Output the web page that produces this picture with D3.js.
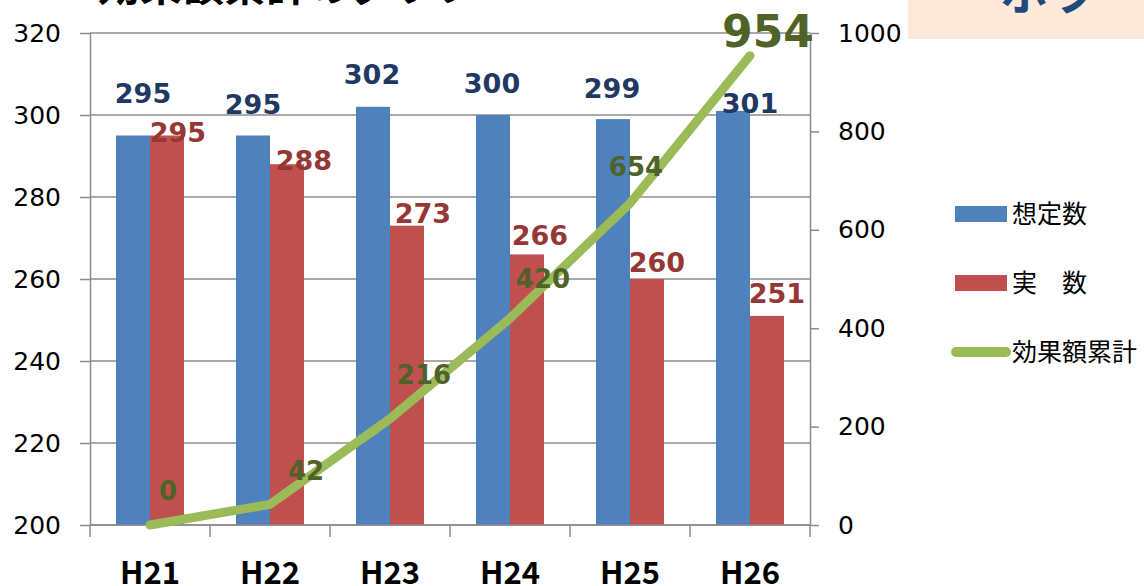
<!DOCTYPE html>
<html>
<head>
<meta charset="utf-8">
<script src="https://cdn.jsdelivr.net/npm/d3@7"></script>
<style>
  html, body { margin: 0; padding: 0; background: #fff; }
  svg { display: block; }
</style>
</head>
<body>
<div id="draw-area"></div>
<script>
// データ
const categories = ['H21', 'H22', 'H23', 'H24', 'H25', 'H26'];
const planned = [295, 295, 302, 300, 299, 301];      // 想定数
const actual = [295, 288, 273, 266, 260, 251];       // 実　数
const cumulative = [0, 42, 216, 420, 654, 954];      // 効果額累計
const leftTicks = [200, 220, 240, 260, 280, 300, 320];
const rightTicks = [0, 200, 400, 600, 800, 1000];

// ラベルの手動オフセット（Excelで手で動かした分）
const plannedNudge = [[10, -33], [0, -22], [-1, -23], [-1, -22], [-1, -21], [17, 2]];
const actualNudge = [[11, 6], [17, 6], [16, -3], [13, -9], [10, -7], [10, -13]];
const cumNudge = [[18, -25], [36, -24], [34, -35], [33, -30], [6, -27], [18, -9]];

const W = 1144, H = 586;
const margin = { top: 33, right: 334, bottom: 61, left: 90 };
const plotW = W - margin.left - margin.right;
const plotH = H - margin.top - margin.bottom;

const colors = { planned: '#4f81bd', actual: '#c0504d', line: '#9bbb59' };
const labelColors = { planned: '#1f3864', actual: '#953735', line: '#4f6228' };

const svg = d3.select('#draw-area').append('svg')
  .attr('width', W).attr('height', H);

// タイトル（上が切れている）
svg.append('text')
  .attr('x', 98).attr('y', 1)
  .attr('font-family', 'Noto Sans CJK JP').attr('font-weight', 'bold')
  .attr('font-size', 42).attr('fill', '#000')
  .text('効果額累計のグラフ');

// 右上の枠
svg.append('rect').attr('x', 908).attr('y', 0).attr('width', 236).attr('height', 39)
  .attr('fill', '#fde9d9');
svg.append('text')
  .attr('x', 1000).attr('y', 10)
  .attr('font-family', 'Noto Sans CJK JP').attr('font-weight', 'bold')
  .attr('font-size', 48).attr('fill', '#1f497d')
  .text('ホラ');

const g = svg.append('g').attr('transform', `translate(${margin.left},${margin.top})`);

const x = d3.scaleBand().domain(categories).range([0, plotW]).padding(0);
const sub = d3.scaleBand().domain(['planned', 'actual']).range([0, x.bandwidth()])
  .paddingInner(0).paddingOuter(0.765);
const yL = d3.scaleLinear().domain([200, 320]).range([plotH, 0]);
const yR = d3.scaleLinear().domain([0, 1000]).range([plotH, 0]);

// グリッド線
g.append('g').selectAll('line').data(leftTicks).enter().append('line')
  .attr('x1', 0).attr('x2', plotW)
  .attr('y1', d => yL(d)).attr('y2', d => yL(d))
  .attr('stroke', '#8c8c8c').attr('stroke-width', 1.5);

// 棒
const rows = categories.map((c, i) => ({ c, i, planned: planned[i], actual: actual[i] }));
['planned', 'actual'].forEach(k => {
  g.append('g').selectAll('rect').data(rows).enter().append('rect')
    .attr('x', d => x(d.c) + sub(k))
    .attr('y', d => yL(d[k]))
    .attr('width', sub.bandwidth())
    .attr('height', d => plotH - yL(d[k]))
    .attr('fill', colors[k]);
});

// 軸
const axisStyle = (sel) => {
  sel.select('.domain').attr('stroke', '#8c8c8c').attr('stroke-width', 1.5);
  sel.selectAll('.tick line').attr('stroke', '#8c8c8c').attr('stroke-width', 1.5);
  sel.selectAll('.tick text').attr('fill', '#000');
};

const axL = g.append('g')
  .call(d3.axisLeft(yL).tickValues(leftTicks).tickSize(10).tickSizeOuter(0).tickPadding(19))
  .attr('font-family', 'DejaVu Sans').attr('font-size', 25);
axisStyle(axL);

const axR = g.append('g').attr('transform', `translate(${plotW},0)`)
  .call(d3.axisRight(yR).tickValues(rightTicks).tickFormat(d3.format('d'))
    .tickSize(9).tickSizeOuter(0).tickPadding(19))
  .attr('font-family', 'DejaVu Sans').attr('font-size', 25);
axisStyle(axR);

const xTicks = d3.scaleLinear().domain([0, categories.length]).range([0, plotW]);
const axB = g.append('g').attr('transform', `translate(0,${plotH})`);
axB.append('line').attr('x1', 0).attr('x2', plotW).attr('y1', 0).attr('y2', 0)
  .attr('stroke', '#8c8c8c').attr('stroke-width', 1.5);
axB.selectAll('line.t').data(d3.range(categories.length + 1)).enter().append('line')
  .attr('class', 't')
  .attr('x1', d => xTicks(d)).attr('x2', d => xTicks(d))
  .attr('y1', 0).attr('y2', 12)
  .attr('stroke', '#8c8c8c').attr('stroke-width', 1.5);
axB.selectAll('text').data(categories).enter().append('text')
  .attr('x', d => x(d) + x.bandwidth() / 2)
  .attr('y', 59)
  .attr('text-anchor', 'middle')
  .attr('font-family', 'Noto Sans CJK JP').attr('font-weight', 'bold')
  .attr('font-size', 31).attr('fill', '#000')
  .text(d => d);

// 折れ線（右軸）
const line = d3.line()
  .x((d, i) => x(categories[i]) + x.bandwidth() / 2)
  .y(d => yR(d));
g.append('path').datum(cumulative)
  .attr('d', line)
  .attr('fill', 'none')
  .attr('stroke', colors.line).attr('stroke-width', 9)
  .attr('stroke-linecap', 'round').attr('stroke-linejoin', 'round');

// データラベル
const lab = (sel) => sel.attr('font-family', 'DejaVu Sans').attr('font-weight', 'bold')
  .attr('text-anchor', 'middle');

lab(g.append('g').selectAll('text').data(rows).enter().append('text'))
  .attr('x', d => x(d.c) + sub('planned') + sub.bandwidth() / 2 + plannedNudge[d.i][0])
  .attr('y', d => yL(d.planned) + plannedNudge[d.i][1])
  .attr('font-size', 27).attr('fill', labelColors.planned)
  .text(d => d.planned);

lab(g.append('g').selectAll('text').data(rows).enter().append('text'))
  .attr('x', d => x(d.c) + sub('actual') + sub.bandwidth() / 2 + actualNudge[d.i][0])
  .attr('y', d => yL(d.actual) + actualNudge[d.i][1])
  .attr('font-size', 27).attr('fill', labelColors.actual)
  .text(d => d.actual);

lab(g.append('g').selectAll('text').data(cumulative).enter().append('text'))
  .attr('x', (d, i) => x(categories[i]) + x.bandwidth() / 2 + cumNudge[i][0])
  .attr('y', (d, i) => yR(d) + cumNudge[i][1])
  .attr('font-size', (d, i) => i === cumulative.length - 1 ? 44 : 26)
  .attr('fill', labelColors.line)
  .text(d => d);

// 凡例
const legend = svg.append('g').attr('font-family', 'Noto Sans CJK JP').attr('font-size', 25);
const legendItems = [
  { name: '想定数', type: 'rect', color: colors.planned, y: 214 },
  { name: '実　数', type: 'rect', color: colors.actual, y: 283 },
  { name: '効果額累計', type: 'line', color: colors.line, y: 352 }
];
legendItems.forEach(it => {
  if (it.type === 'rect') {
    legend.append('rect').attr('x', 955).attr('y', it.y - 8).attr('width', 52).attr('height', 16)
      .attr('fill', it.color);
  } else {
    legend.append('line').attr('x1', 956).attr('x2', 1006).attr('y1', it.y).attr('y2', it.y)
      .attr('stroke', it.color).attr('stroke-width', 10).attr('stroke-linecap', 'round');
  }
  legend.append('text').attr('x', 1012).attr('y', it.y).attr('dy', '0.36em')
    .attr('fill', '#000').text(it.name);
});
</script>
</body>
</html>
